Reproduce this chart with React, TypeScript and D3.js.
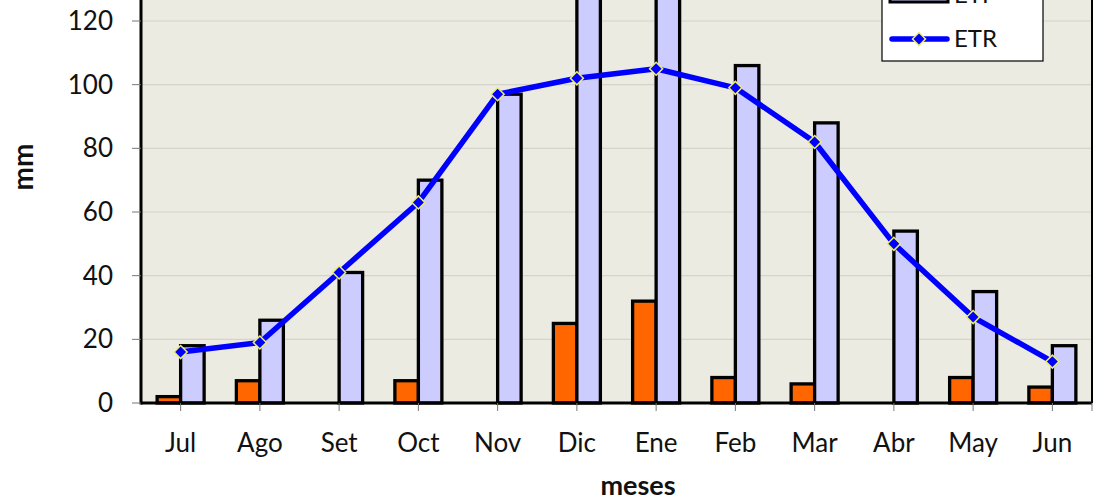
import { useMemo } from "react";
import * as d3 from "d3";

const months = ["Jul", "Ago", "Set", "Oct", "Nov", "Dic", "Ene", "Feb", "Mar", "Abr", "May", "Jun"];
const pValues = [2, 7, 0, 7, 0, 25, 32, 8, 6, 0, 8, 5];
const etpValues = [18, 26, 41, 70, 97, 130, 132, 106, 88, 54, 35, 18];
const etrValues = [16, 19, 41, 63, 97, 102, 105, 99, 82, 50, 27, 13];
const yTicks = [0, 20, 40, 60, 80, 100, 120];

const FONT = "Lato, 'Open Sans', sans-serif";

export default function App() {
  const width = 1099;
  const height = 503;
  const left = 141;
  const right = 1092;
  const bottom = 403;
  const pxPerUnit = (403 - 21) / 120;

  const x = useMemo(
    () => d3.scaleBand<string>().domain(months).range([left, right]).padding(0),
    []
  );
  const y = useMemo(
    () => d3.scaleLinear().domain([0, 140]).range([bottom, bottom - 140 * pxPerUnit]),
    []
  );
  const barW = 23.5;
  const cx = (m: string) => (x(m) ?? 0) + x.bandwidth() / 2;

  const linePath =
    d3
      .line<number>()
      .x((_, i) => cx(months[i]))
      .y((v) => y(v))(etrValues) ?? "";

  // square diamond (rotated square), like the spreadsheet marker
  const diamond = d3.symbol().type(d3.symbolSquare).size(85)() ?? "";

  return (
    <svg
      width={width}
      height={height}
      style={{ position: "absolute", left: 0, top: 0, background: "#ffffff" }}
      fontFamily={FONT}
    >
      <rect x={left} y={y(140)} width={right - left} height={bottom - y(140)} fill="#ecebe1" />
      {yTicks.slice(1).map((t) => (
        <line key={t} x1={left} x2={right} y1={y(t)} y2={y(t)} stroke="#d5d4ca" strokeWidth={1.2} />
      ))}

      {months.map((m, i) => (
        <g key={m}>
          {pValues[i] > 0 ? (
            <rect
              x={cx(m) - barW}
              y={y(pValues[i])}
              width={barW}
              height={bottom - y(pValues[i])}
              fill="#ff6600"
              stroke="#000"
              strokeWidth={3.3}
            />
          ) : null}
          <rect
            x={cx(m)}
            y={y(etpValues[i])}
            width={barW}
            height={bottom - y(etpValues[i])}
            fill="#ccccff"
            stroke="#000"
            strokeWidth={3.3}
          />
        </g>
      ))}

      <path d={linePath} fill="none" stroke="#0000ff" strokeWidth={5.5} strokeLinejoin="round" />
      {etrValues.map((v, i) => (
        <path
          key={i}
          d={diamond}
          transform={`translate(${cx(months[i])},${y(v)}) rotate(45)`}
          fill="#0000ff"
          stroke="#eeee66"
          strokeWidth={1.5}
        />
      ))}

      {/* axes */}
      <line x1={left} x2={left} y1={y(140)} y2={bottom + 1.5} stroke="#000" strokeWidth={3} />
      <line x1={right} x2={right} y1={y(140)} y2={bottom} stroke="#000" strokeWidth={2} />
      <line x1={left} x2={right} y1={bottom} y2={bottom} stroke="#000" strokeWidth={3} />
      {yTicks.map((t) => (
        <g key={t}>
          <line x1={left - 9} x2={left} y1={y(t)} y2={y(t)} stroke="#777" strokeWidth={1} />
          <text x={113} y={y(t)} dy="0.35em" textAnchor="end" fontSize={26} fill="#111">
            {t}
          </text>
        </g>
      ))}
      {months.map((m) => (
        <g key={m}>
          <line x1={cx(m)} x2={cx(m)} y1={bottom} y2={bottom + 8} stroke="#777" strokeWidth={1} />
          <text x={cx(m)} y={452} textAnchor="middle" fontSize={26} fill="#111">
            {m}
          </text>
        </g>
      ))}
      <line x1={right} x2={right} y1={bottom} y2={bottom + 8} stroke="#777" strokeWidth={1} />

      <text x={638} y={495} textAnchor="middle" fontSize={27} fontWeight="bold" fill="#111">
        meses
      </text>
      <text
        transform="translate(33,167) rotate(-90)"
        textAnchor="middle"
        fontSize={28}
        fontWeight="bold"
        fill="#111"
      >
        mm
      </text>

      {/* legend */}
      <g>
        <rect x={882} y={-120} width={161} height={181} fill="#ffffff" stroke="#000" strokeWidth={1.2} />
        <rect x={890} y={-95} width={58} height={12} fill="#ff6600" stroke="#000" strokeWidth={3} />
        <text x={954} y={-80} fontSize={24} fill="#111">P</text>
        <rect x={890} y={-10} width={58} height={12} fill="#ccccff" stroke="#000" strokeWidth={3} />
        <text x={954} y={3} fontSize={24} fill="#111">ETP</text>
        <line x1={892} x2={947} y1={39} y2={39} stroke="#0000ff" strokeWidth={5.5} strokeLinecap="round" />
        <path d={diamond} transform="translate(919,39) rotate(45)" fill="#0000ff" stroke="#eeee66" strokeWidth={1.5} />
        <text x={954} y={47} fontSize={24} fill="#111">ETR</text>
      </g>
    </svg>
  );
}
